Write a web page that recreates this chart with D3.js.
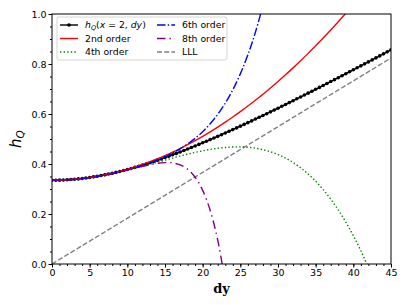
<!DOCTYPE html>
<html>
<head>
<meta charset="utf-8">
<script src="https://cdn.jsdelivr.net/npm/d3@7"></script>
<style>
  body { margin: 0; background: #fff; }
  svg { display: block; }
  .tick text { font-family: "DejaVu Sans", sans-serif; font-size: 9.5px; fill: #000; }
</style>
</head>
<body>
<svg id="plotSVG" width="407" height="305"></svg>
<script>
// exact h_Q(x=2, dy), sampled every 0.5 in dy
var dyFine = d3.range(0, 45.01, 0.5);
var hExact = [0.3350, 0.3351, 0.3354, 0.3360, 0.3368, 0.3378, 0.3391, 0.3405, 0.3422, 0.3441,
  0.3462, 0.3486, 0.3511, 0.3538, 0.3567, 0.3598, 0.3631, 0.3666, 0.3702, 0.3740,
  0.3780, 0.3822, 0.3865, 0.3909, 0.3955, 0.4002, 0.4051, 0.4101, 0.4152, 0.4204,
  0.4258, 0.4312, 0.4368, 0.4425, 0.4482, 0.4541, 0.4601, 0.4661, 0.4723, 0.4785,
  0.4848, 0.4911, 0.4976, 0.5041, 0.5107, 0.5173, 0.5240, 0.5308, 0.5376, 0.5445,
  0.5514, 0.5584, 0.5654, 0.5725, 0.5797, 0.5868, 0.5940, 0.6013, 0.6086, 0.6159,
  0.6233, 0.6307, 0.6381, 0.6456, 0.6531, 0.6607, 0.6682, 0.6758, 0.6834, 0.6911,
  0.6988, 0.7065, 0.7142, 0.7219, 0.7297, 0.7375, 0.7453, 0.7532, 0.7610, 0.7689,
  0.7768, 0.7847, 0.7926, 0.8006, 0.8085, 0.8165, 0.8245, 0.8325, 0.8406, 0.8486,
  0.8567];

// expansions, sampled every 1 in dy
var order2 = [0.3350, 0.3354, 0.3368, 0.3390, 0.3420, 0.3460, 0.3508, 0.3565, 0.3631, 0.3706,
  0.3789, 0.3881, 0.3982, 0.4092, 0.4210, 0.4338, 0.4474, 0.4619, 0.4772, 0.4935,
  0.5106, 0.5286, 0.5475, 0.5672, 0.5879, 0.6094, 0.6318, 0.6550, 0.6792, 0.7042,
  0.7301, 0.7569, 0.7845, 0.8131, 0.8425, 0.8728, 0.9039, 0.9360, 0.9689, 1.0027];
var order4 = [0.3350, 0.3354, 0.3368, 0.3389, 0.3419, 0.3457, 0.3503, 0.3556, 0.3616, 0.3682,
  0.3753, 0.3828, 0.3907, 0.3989, 0.4072, 0.4155, 0.4237, 0.4317, 0.4393, 0.4464,
  0.4528, 0.4584, 0.4629, 0.4662, 0.4681, 0.4684, 0.4668, 0.4632, 0.4573, 0.4489,
  0.4377, 0.4235, 0.4060, 0.3850, 0.3601, 0.3310, 0.2976, 0.2594, 0.2162, 0.1676,
  0.1132, 0.0529, -0.0139];
var order6 = [0.3350, 0.3354, 0.3368, 0.3389, 0.3419, 0.3457, 0.3504, 0.3557, 0.3619, 0.3688,
  0.3765, 0.3849, 0.3943, 0.4047, 0.4162, 0.4291, 0.4438, 0.4606, 0.4800, 0.5027,
  0.5294, 0.5611, 0.5986, 0.6434, 0.6968, 0.7606, 0.8366, 0.9269, 1.0341];
var order8 = [0.3350, 0.3354, 0.3368, 0.3389, 0.3419, 0.3457, 0.3504, 0.3556, 0.3617, 0.3684,
  0.3756, 0.3829, 0.3903, 0.3972, 0.4027, 0.4056, 0.4044, 0.3966, 0.3790, 0.3470,
  0.2946, 0.2143, 0.0954, -0.0747];
var lllDy = [0, 45];
var lllVals = [0, 0.824];

var xTicks = [0, 5, 10, 15, 20, 25, 30, 35, 40, 45];
var yTicks = [0.0, 0.2, 0.4, 0.6, 0.8, 1.0];

var margin = {left: 52, right: 16, top: 14, bottom: 41};
var W = 407, H = 305;

let svg = d3.select("#plotSVG");

let xScale = d3.scaleLinear()
  .domain([0, 45])
  .range([margin.left, W - margin.right]);

let yScale = d3.scaleLinear()
  .domain([0, 1])
  .range([H - margin.bottom, margin.top]);

svg.append("clipPath")
  .attr("id", "plotClip")
  .append("rect")
  .attr("x", xScale(0))
  .attr("y", yScale(1))
  .attr("width", xScale(45) - xScale(0))
  .attr("height", yScale(0) - yScale(1));

let plot = svg.append("g").attr("clip-path", "url(#plotClip)");

function pairs(xs, ys) {
  return ys.map((v, i) => [xs[i], v]);
}
let dyStep1 = d3.range(0, 46, 1);

let line = d3.line()
  .x(d => xScale(d[0]))
  .y(d => yScale(d[1]));
let smooth = d3.line()
  .x(d => xScale(d[0]))
  .y(d => yScale(d[1]))
  .curve(d3.curveCatmullRom);

// series styles (matplotlib-ish)
let series = [
  {name: "lll", data: pairs(lllDy, lllVals), color: "#808080", dash: "5,2.2", gen: line},
  {name: "o2", data: pairs(dyStep1, order2), color: "#ff0000", dash: null, gen: smooth},
  {name: "o4", data: pairs(dyStep1, order4), color: "#008000", dash: "1.4,2.2", gen: smooth},
  {name: "o6", data: pairs(dyStep1, order6), color: "#0000ff", dash: "8.5,2.2,1.4,2.2", gen: smooth},
  {name: "o8", data: pairs(dyStep1, order8), color: "#800080", dash: "8.5,4,1.4,4", gen: smooth}
];

// exact curve first so expansions draw on top near dy=0
plot.append("path")
  .attr("d", line(pairs(dyFine, hExact)))
  .attr("fill", "none")
  .attr("stroke", "#000")
  .attr("stroke-width", 1.5);

plot.selectAll(".marker")
  .data(pairs(dyFine, hExact))
  .join("circle")
  .attr("class", "marker")
  .attr("cx", d => xScale(d[0]))
  .attr("cy", d => yScale(d[1]))
  .attr("r", 1.8)
  .attr("fill", "#000");

series.forEach(s => {
  plot.append("path")
    .attr("d", s.gen(s.data))
    .attr("fill", "none")
    .attr("stroke", s.color)
    .attr("stroke-width", 1.4)
    .attr("stroke-dasharray", s.dash);
});

// minor ticks
svg.append("g")
  .attr("transform", "translate(0," + yScale(0) + ")")
  .call(d3.axisBottom(xScale).tickValues(d3.range(0, 46, 1)).tickSize(2).tickFormat(""))
  .call(g => g.select(".domain").remove());
svg.append("g")
  .attr("transform", "translate(" + xScale(0) + ",0)")
  .call(d3.axisLeft(yScale).tickValues(d3.range(0, 1.001, 0.05)).tickSize(2).tickFormat(""))
  .call(g => g.select(".domain").remove());

// major ticks
svg.append("g")
  .attr("id", "xAxis")
  .attr("transform", "translate(0," + yScale(0) + ")")
  .call(d3.axisBottom(xScale).tickValues(xTicks).tickSize(3.5).tickPadding(2).tickFormat(d3.format("d")))
  .call(g => g.select(".domain").remove());
svg.append("g")
  .attr("id", "yAxis")
  .attr("transform", "translate(" + xScale(0) + ",0)")
  .call(d3.axisLeft(yScale).tickValues(yTicks).tickSize(3.5).tickPadding(2).tickFormat(d3.format(".1f")))
  .call(g => g.select(".domain").remove());

// frame
svg.append("rect")
  .attr("x", xScale(0))
  .attr("y", yScale(1))
  .attr("width", xScale(45) - xScale(0))
  .attr("height", yScale(0) - yScale(1))
  .attr("fill", "none")
  .attr("stroke", "#000")
  .attr("stroke-width", 1);

// axis labels
svg.append("text")
  .attr("x", (xScale(0) + xScale(45)) / 2)
  .attr("y", 293)
  .attr("text-anchor", "middle")
  .style("font-family", "DejaVu Serif, serif")
  .style("font-weight", "bold")
  .style("font-size", "13px")
  .text("dy");

let ylab = svg.append("text")
  .attr("transform", "translate(21," + ((yScale(0) + yScale(1)) / 2) + ") rotate(-90)")
  .attr("text-anchor", "middle")
  .style("font-family", "DejaVu Sans, sans-serif")
  .style("font-size", "15px");
ylab.append("tspan").style("font-style", "italic").text("h");
ylab.append("tspan").style("font-style", "italic").style("font-size", "10.5px").attr("dy", 3).text("Q");

// legend
let legend = svg.append("g");
legend.append("rect")
  .attr("x", 57).attr("y", 17)
  .attr("width", 170).attr("height", 43)
  .attr("rx", 2)
  .attr("fill", "#fff").attr("fill-opacity", 0.8)
  .attr("stroke", "#ccc").attr("stroke-width", 0.8);

let legendItems = [
  {label: "exact", color: "#000", dash: null, col: 0, row: 0},
  {label: "2nd order", color: "#ff0000", dash: null, col: 0, row: 1},
  {label: "4th order", color: "#008000", dash: "1.4,2.2", col: 0, row: 2},
  {label: "6th order", color: "#0000ff", dash: "8.5,2.2,1.4,2.2", col: 1, row: 0},
  {label: "8th order", color: "#800080", dash: "8.5,4,1.4,4", col: 1, row: 1},
  {label: "LLL", color: "#808080", dash: "5,2.2", col: 1, row: 2}
];
let colX = [60, 157];
let rowY = [25, 38.5, 52];

legendItems.forEach(it => {
  let x0 = colX[it.col], y0 = rowY[it.row];
  legend.append("line")
    .attr("x1", x0).attr("x2", x0 + 18)
    .attr("y1", y0).attr("y2", y0)
    .attr("stroke", it.color)
    .attr("stroke-width", 1.4)
    .attr("stroke-dasharray", it.dash);
  if (it.label === "exact") {
    legend.append("circle").attr("cx", x0 + 9).attr("cy", y0).attr("r", 1.8).attr("fill", "#000");
    let t = legend.append("text")
      .attr("x", x0 + 25).attr("y", y0 + 3.3)
      .style("font-family", "DejaVu Sans, sans-serif")
      .style("font-size", "9.3px");
    t.append("tspan").style("font-style", "italic").text("h");
    t.append("tspan").style("font-style", "italic").style("font-size", "6.5px").attr("dy", 2).text("Q");
    t.append("tspan").attr("dy", -2).text("(");
    t.append("tspan").style("font-style", "italic").text("x");
    t.append("tspan").text(" = 2, ");
    t.append("tspan").style("font-style", "italic").text("dy");
    t.append("tspan").text(")");
  } else {
    legend.append("text")
      .attr("x", x0 + 25).attr("y", y0 + 3.3)
      .style("font-family", "DejaVu Sans, sans-serif")
      .style("font-size", "9.3px")
      .text(it.label);
  }
});
</script>
</body>
</html>
